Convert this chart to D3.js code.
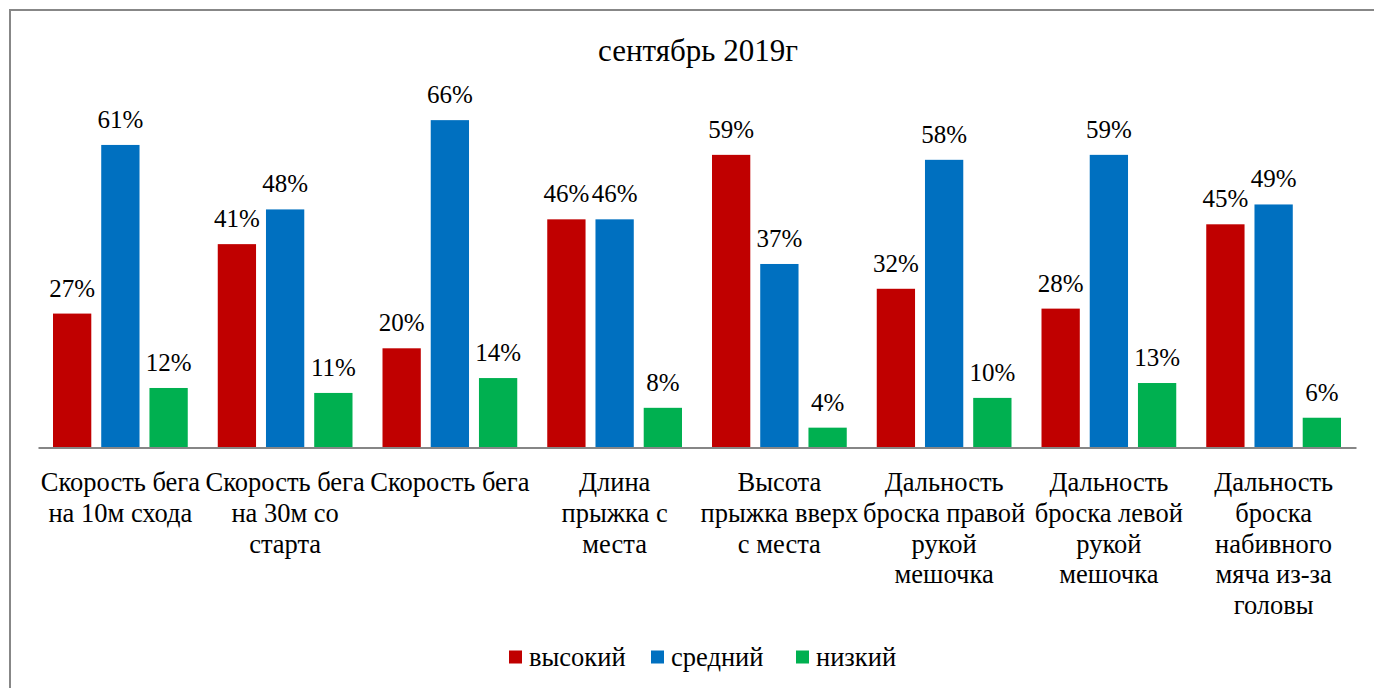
<!DOCTYPE html>
<html>
<head>
<meta charset="utf-8">
<script src="https://cdn.jsdelivr.net/npm/d3@7"></script>
<style>
  body { margin: 0; background: #fff; }
</style>
</head>
<body>
<svg></svg>
<script>
// данные с диаграммы
let categories = [
  ["Скорость бега", "на 10м схода"],
  ["Скорость бега", "на 30м со", "старта"],
  ["Скорость бега"],
  ["Длина", "прыжка с", "места"],
  ["Высота", "прыжка вверх", "с места"],
  ["Дальность", "броска правой", "рукой", "мешочка"],
  ["Дальность", "броска левой", "рукой", "мешочка"],
  ["Дальность", "броска", "набивного", "мяча из-за", "головы"]
];
let seriesNames = ["высокий", "средний", "низкий"];
let vysokiy = [27, 41, 20, 46, 59, 32, 28, 45];
let sredniy = [61, 48, 66, 46, 37, 58, 59, 49];
let nizkiy  = [12, 11, 14, 8, 4, 10, 13, 6];
let colors = ["#C00000", "#0070C0", "#00B050"];
let title = "сентябрь 2019г";

let width = 1374;
let height = 688;
let left = 38, right = 1356;
let baseY = 447.5;
let fontName = "'Liberation Serif'";

let svg = d3.select("svg")
   .attr("width", width).attr("height", height)
   .attr("font-family", fontName);

// рамка
svg.append("rect")
   .attr("x", 10).attr("y", 10)
   .attr("width", 1380).attr("height", 700)
   .attr("fill", "none")
   .attr("stroke", "#878787")
   .attr("stroke-width", 2);

svg.append("text")
   .attr("x", 698).attr("y", 61)
   .attr("text-anchor", "middle")
   .attr("font-family", fontName)
   .attr("font-size", 31)
   .text(title);

let idx = d3.range(categories.length);
let xScale = d3.scaleBand().domain(idx).range([left, right]).paddingInner(0).paddingOuter(0);
let bw = xScale.bandwidth();
let xInner = d3.scaleBand().domain([0, 1, 2]).range([15, bw - 15]).paddingInner(0.206).paddingOuter(0);
let yScale = d3.scaleLinear().domain([0, 70]).range([baseY, baseY - 70 * 4.96]);

let allSeries = [vysokiy, sredniy, nizkiy];
let rows = [];
allSeries.forEach((vals, s) => {
  vals.forEach((v, i) => rows.push({ s: s, i: i, v: v }));
});

svg.selectAll("rect.bar")
   .data(rows)
   .enter()
   .append("rect")
   .attr("class", "bar")
   .attr("x", d => xScale(d.i) + xInner(d.s))
   .attr("y", d => yScale(d.v))
   .attr("width", xInner.bandwidth())
   .attr("height", d => baseY - yScale(d.v))
   .attr("fill", d => colors[d.s]);

svg.selectAll("text.val")
   .data(rows)
   .enter()
   .append("text")
   .attr("class", "val")
   .attr("x", d => xScale(d.i) + xInner(d.s) + xInner.bandwidth() / 2)
   .attr("y", d => yScale(d.v) - 17)
   .attr("text-anchor", "middle")
   .attr("font-family", fontName)
   .attr("font-size", 25)
   .text(d => d.v + "%");

// ось X
let xAxis = d3.axisBottom(xScale).tickSize(0).tickFormat("");
let gx = svg.append("g")
   .attr("transform", "translate(0," + baseY + ")")
   .call(xAxis);
gx.select(".domain").attr("stroke", "#868686").attr("stroke-width", 2);

svg.selectAll("text.cat")
   .data(categories)
   .enter()
   .append("text")
   .attr("class", "cat")
   .attr("text-anchor", "middle")
   .attr("font-family", fontName)
   .attr("font-size", 26.5)
   .each(function (lines, i) {
     d3.select(this).selectAll("tspan")
       .data(lines)
       .enter()
       .append("tspan")
       .attr("x", xScale(i) + bw / 2)
       .attr("y", (d, k) => 491 + k * 30.8)
       .text(d => d);
   });

// легенда
let legendX = [509, 651, 796];
let legend = svg.selectAll("g.leg")
   .data(seriesNames)
   .enter()
   .append("g")
   .attr("class", "leg")
   .attr("transform", (d, i) => "translate(" + legendX[i] + ",650.5)");
legend.append("rect")
   .attr("width", 13).attr("height", 13)
   .attr("fill", (d, i) => colors[i]);
legend.append("text")
   .attr("x", 20).attr("y", 15.5)
   .attr("font-family", fontName)
   .attr("font-size", 26.5)
   .text(d => d);
</script>
</body>
</html>
